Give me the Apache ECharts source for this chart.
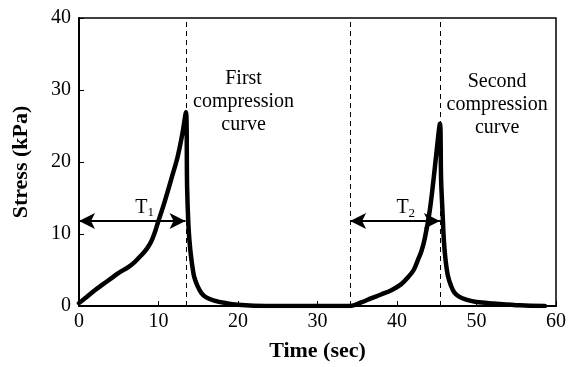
<!DOCTYPE html>
<html>
<head>
<meta charset="utf-8">
<script src="https://cdn.jsdelivr.net/npm/echarts@6/dist/echarts.min.js"></script>
<style>
  html, body { margin: 0; padding: 0; background: #fff; }
  #chart { width: 569px; height: 367px; }
</style>
</head>
<body>
<div id="chart"></div>
<script>
// stress trace (time in sec, stress in kPa)
const timeSec = [0, 1, 2, 3, 4, 5, 6.2, 7, 7.8, 8.5, 9.1, 9.5, 9.9, 10.75, 11.6, 12.4, 13.0, 13.45,
  13.6, 13.75, 13.9, 14.1, 14.3, 14.5, 14.9, 15.4, 16, 17, 18.5, 20, 22, 25, 30, 34.1,
  35.5, 36.8, 38, 39.3, 40.5, 41.4, 42.1, 42.6, 43.1, 43.5, 44.1, 44.6, 45.0, 45.4,
  45.55, 45.75, 45.9, 46.1, 46.4, 46.8, 47.2, 47.8, 48.8, 50, 52.2, 55.5, 58.6];
const stressKPa = [0.4, 1.3, 2.2, 3.0, 3.8, 4.6, 5.4, 6.1, 7.0, 7.9, 9.0, 10.1, 11.5, 14.4, 17.6, 20.7, 23.9, 26.9,
  16.5, 11.5, 9.0, 6.8, 5.2, 4.0, 2.8, 1.8, 1.2, 0.75, 0.4, 0.18, 0.05, 0, 0, 0,
  0.5, 1.1, 1.6, 2.2, 3.0, 4.0, 5.0, 6.3, 7.7, 9.4, 13.1, 17.6, 21.7, 25.3,
  17.5, 12.5, 9.0, 6.5, 4.2, 2.8, 1.9, 1.3, 0.85, 0.55, 0.35, 0.1, 0];

// dashed markers and arrow spans
const dashedAt = [13.45, 34.1, 45.4];
const arrowSpans = [[0, 13.4], [34.1, 45.4]];
const arrowLevel = 11.8;

// annotations: [time, stress, text]
const notes = [
  [20.7, 28.4, 'First\ncompression\ncurve'],
  [52.6, 27.9, 'Second\ncompression\ncurve'],
  [8.25, 13.7, '{t|T}{s|1}'],
  [41.1, 13.6, '{t|T}{s|2}']
];

const xTicks = [0, 10, 20, 30, 40, 50, 60];
const yTicks = [0, 10, 20, 30, 40];

const serif = '"Liberation Serif", "DejaVu Serif", serif';

var chart = echarts.init(document.getElementById('chart'));

var option = {
  animation: false,
  backgroundColor: '#fff',
  grid: {
    left: 79, right: 10, top: 18, bottom: 54,
    show: true, borderColor: '#000', borderWidth: 1.5
  },
  xAxis: {
    type: 'value', min: 0, max: 60, interval: 10,
    name: 'Time (sec)', nameLocation: 'middle', nameGap: 34,
    nameTextStyle: { fontFamily: serif, fontWeight: 'bold', fontSize: 22, color: '#000' },
    axisLine: { lineStyle: { color: '#000', width: 2 } },
    axisTick: { inside: true, length: 5, lineStyle: { color: '#000' } },
    axisLabel: {
      fontFamily: serif, fontSize: 20, color: '#000', margin: 6,
      formatter: v => xTicks.includes(v) ? String(v) : ''
    },
    splitLine: { show: false }
  },
  yAxis: {
    type: 'value', min: 0, max: 40, interval: 10,
    name: 'Stress (kPa)', nameLocation: 'middle', nameGap: 47,
    nameTextStyle: { fontFamily: serif, fontWeight: 'bold', fontSize: 22, color: '#000' },
    axisLine: { show: true, lineStyle: { color: '#000', width: 2 } },
    axisTick: { show: true, inside: true, length: 5, lineStyle: { color: '#000' } },
    axisLabel: {
      fontFamily: serif, fontSize: 20, color: '#000', margin: 8,
      formatter: v => yTicks.includes(v) ? String(v) : ''
    },
    splitLine: { show: false }
  },
  series: [
    {
      type: 'line',
      data: timeSec.map((t, i) => [t, stressKPa[i]]),
      showSymbol: false,
      smooth: 0.35,
      lineStyle: { color: '#000', width: 4.5, join: 'round', cap: 'round' },
      z: 3,
      markLine: {
        silent: true,
        symbol: ['none', 'none'],
        label: { show: false },
        lineStyle: { color: '#000', type: [5, 4], width: 1 },
        data: dashedAt.map(x => ({ xAxis: x }))
      }
    },
    {
      type: 'scatter',
      data: notes.map(n => ({ value: [n[0], n[1]], text: n[2] })),
      symbolSize: 0,
      itemStyle: { color: '#000', opacity: 1 },
      z: 4,
      label: {
        show: true,
        position: 'inside',
        formatter: p => p.data.text,
        fontFamily: serif,
        fontSize: 20,
        lineHeight: 23,
        color: '#000',
        textBorderWidth: 0,
        textBorderColor: 'transparent',
        align: 'center',
        verticalAlign: 'middle',
        rich: {
          t: { fontFamily: serif, fontSize: 20, color: '#000', textBorderWidth: 0 },
          s: { fontFamily: serif, fontSize: 13, color: '#000', textBorderWidth: 0, verticalAlign: 'bottom', padding: [10, 0, 0, 0] }
        }
      },
      markLine: {
        silent: true,
        symbol: ['arrow', 'arrow'],
        symbolSize: [12, 16],
        label: { show: false },
        lineStyle: { color: '#000', type: 'solid', width: 2 },
        data: arrowSpans.map(s => [
          { coord: [s[0], arrowLevel] },
          { coord: [s[1], arrowLevel] }
        ])
      }
    }
  ]
};

chart.setOption(option);
</script>
</body>
</html>
